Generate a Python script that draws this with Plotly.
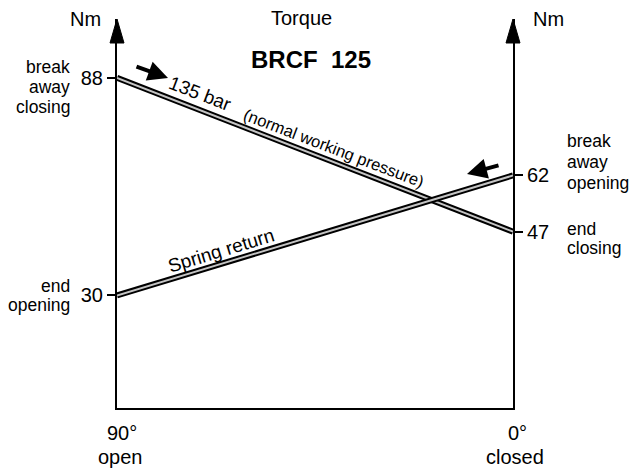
import plotly.graph_objects as go

# ---- data ----
angle_deg = [90, 0]              # 90° open (left) -> 0° closed (right)
torque_135bar = [88, 47]         # Nm, 135 bar (normal working pressure)
torque_spring = [30, 62]         # Nm, spring return
left_ticks = [88, 30]
right_ticks = [62, 47]

W, H = 634, 472
L, R, T, B = 117, 121, 19, 64
PW, PH = W - L - R, H - T - B
YMAX = 103.7
FONT = "Liberation Sans, Arial, sans-serif"


def px(xpix):
    return (xpix - L) / PW


def py(ypix):
    return (H - B - ypix) / PH


fig = go.Figure()

# double lines: black outer, grey inner
for ys, axis in ((torque_135bar, "y"), (torque_spring, "y2")):
    fig.add_trace(go.Scatter(x=angle_deg, y=ys, mode="lines", yaxis=axis,
                             line=dict(color="black", width=6), hoverinfo="skip"))
    fig.add_trace(go.Scatter(x=angle_deg, y=ys, mode="lines", yaxis=axis,
                             line=dict(color="#c4c4c4", width=2), hoverinfo="skip"))

ann = []


def txt(text, x, y, size=18, xanchor="center", angle=0, bold=False):
    if bold:
        text = "<b>" + text + "</b>"
    ann.append(dict(text=text, x=px(x), y=py(y), xref="paper", yref="paper",
                    xanchor=xanchor, yanchor="middle", showarrow=False,
                    textangle=angle, font=dict(family=FONT, size=size, color="black")))


txt("Nm", 85, 19, 20)
txt("Nm", 548, 19, 20)
txt("Torque", 301, 18, 20)
txt("BRCF&nbsp;&nbsp;125", 311, 59, 24, bold=True)

# left side labels
for t_, y_ in (("break", 67), ("away", 87), ("closing", 107), ("end", 286), ("opening", 305)):
    txt(t_, 72, y_, 17.5, xanchor="right")
# right side labels
for t_, y_ in (("break", 141), ("away", 162), ("opening", 183), ("end", 229), ("closing", 248)):
    txt(t_, 565, y_, 17.5, xanchor="left")

# bottom labels
txt("90°", 122, 433, 20)
txt("open", 120, 457, 20)
txt("0°", 517, 433, 20)
txt("closed", 515, 457, 20)

# rotated line labels
txt("135 bar", 200, 93, 19, angle=21)
txt("(normal working pressure)", 334, 148, 16.5, angle=21)
txt("Spring return", 221, 250, 19, angle=-17)

# small black pointer arrows
for hx, hy, tx, ty in ((168, 78, 135, 66), (467, 174, 500, 165)):
    ann.append(dict(x=px(hx), y=py(hy), xref="paper", yref="paper", text="",
                    showarrow=True, ax=tx - hx, ay=ty - hy, arrowhead=2,
                    arrowsize=1.0, arrowwidth=4, arrowcolor="black"))

# axis arrowheads (filled triangles)
hw = 7 / PW
base = py(43)
shapes = []
for xa in (0, 1):
    shapes.append(dict(type="path", xref="paper", yref="paper",
                       path=f"M {xa - hw},{base} L {xa},1 L {xa + hw},{base} Z",
                       fillcolor="black", line=dict(color="black", width=1)))

fig.update_layout(
    width=W, height=H,
    margin=dict(l=L, r=R, t=T, b=B),
    paper_bgcolor="white", plot_bgcolor="white",
    showlegend=False,
    font=dict(family=FONT, size=20, color="black"),
    xaxis=dict(range=[90, 0], showgrid=False, zeroline=False, showline=True,
               linecolor="black", linewidth=2, showticklabels=False, ticks=""),
    yaxis=dict(range=[0, YMAX], showgrid=False, zeroline=False, showline=True,
               linecolor="black", linewidth=2, ticks="outside", ticklen=8,
               tickwidth=2, tickcolor="black", tickvals=left_ticks,
               tickfont=dict(size=20)),
    yaxis2=dict(range=[0, YMAX], overlaying="y", side="right", showgrid=False,
                zeroline=False, showline=True, linecolor="black", linewidth=2,
                ticks="outside", ticklen=8, tickwidth=2, tickcolor="black",
                tickvals=right_ticks, tickfont=dict(size=20)),
    annotations=ann,
    shapes=shapes,
)

fig.write_html("out.html", config={"displayModeBar": False},
               post_script="document.body.style.margin='0';document.body.style.overflow='hidden';")
